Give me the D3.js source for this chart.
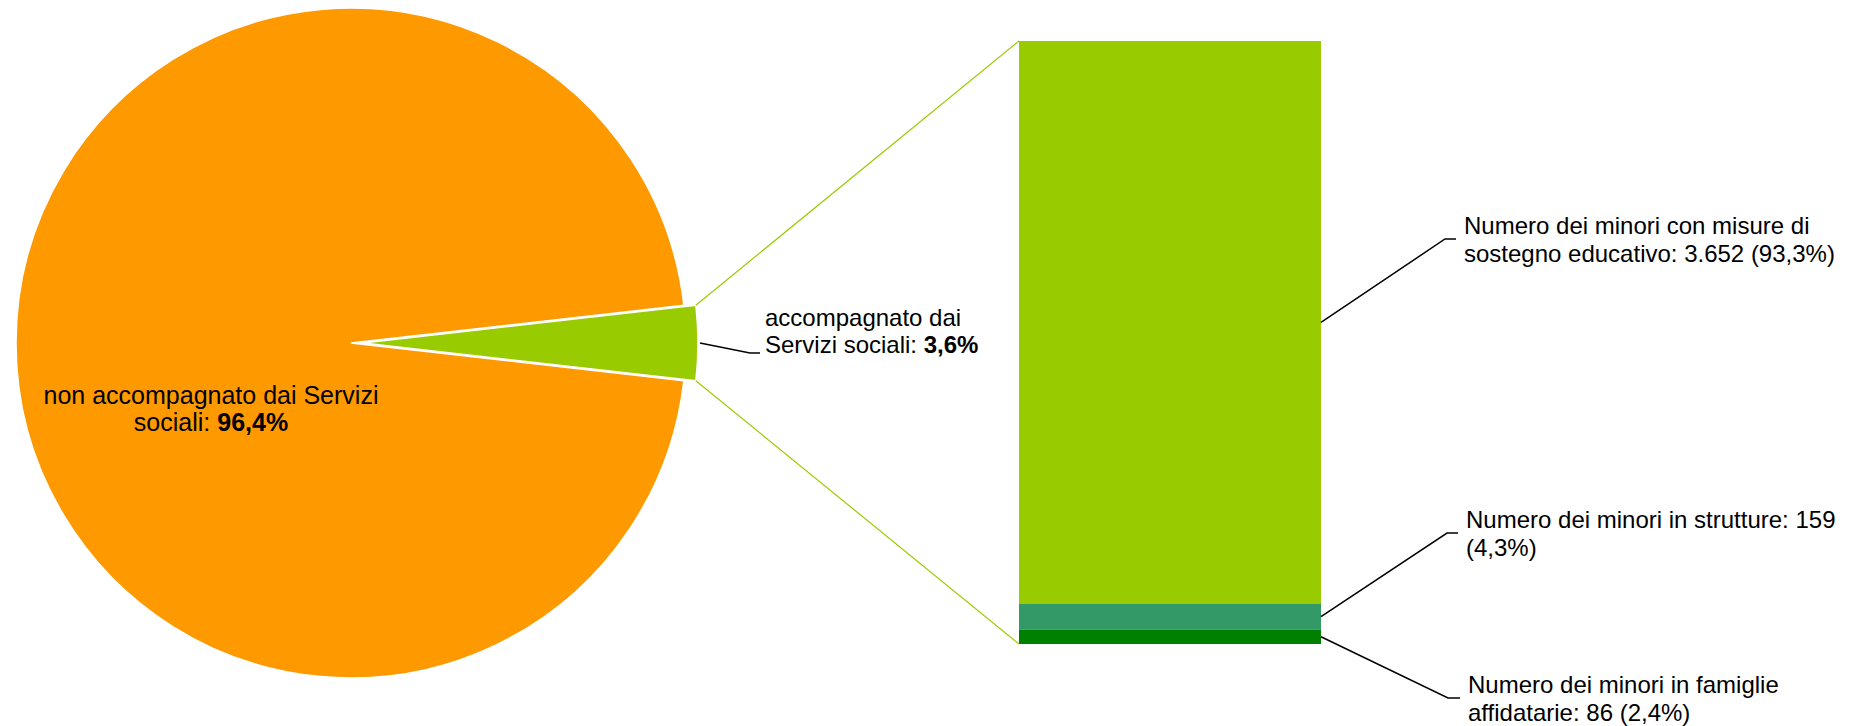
<!DOCTYPE html>
<html><head><meta charset="utf-8">
<script src="https://cdn.jsdelivr.net/npm/d3@7"></script>
<style>
html,body{margin:0;padding:0;background:#fff;}
svg{display:block;font-family:"Liberation Sans",Arial,sans-serif;}
</style></head>
<body>
<svg id="chart" width="1860" height="726"></svg>
<script>
// ---- data ----
const pieCategories = ["non accompagnato dai Servizi sociali", "accompagnato dai Servizi sociali"];
const pieValues = [96.4, 3.6];
const pieLabels = ["96,4%", "3,6%"];
const pieColors = ["#FF9900", "#99CC00"];

const barCategories = ["Numero dei minori con misure di sostegno educativo", "Numero dei minori in strutture", "Numero dei minori in famiglie affidatarie"];
const barCounts = ["3.652", "159", "86"];
const barPercents = [93.3, 4.3, 2.4];
const barPercentLabels = ["93,3%", "4,3%", "2,4%"];
const barColors = ["#99CC00", "#339966", "#008000"];

// ---- layout ----
const svg = d3.select("#chart");
const cx = 351, cy = 343, R = 335, explode = 12;
const fontPie = 24, fontBar = 24;

const half = pieValues[1] / 100 * Math.PI;
const pie = d3.pie().sort(null).value(d => d)
  .startAngle(Math.PI / 2 + half).endAngle(Math.PI / 2 + half + 2 * Math.PI);
const arcs = pie(pieValues);
const arc = d3.arc().innerRadius(0).outerRadius(R);

const gPie = svg.append("g").attr("transform", `translate(${cx},${cy})`);
gPie.selectAll("path").data(arcs).join("path")
  .attr("d", arc)
  .attr("fill", (d, i) => pieColors[i])
  .attr("stroke", "#fff").attr("stroke-width", 1.5)
  .attr("transform", (d, i) => {
    if (i !== 1) return null;
    const m = (d.startAngle + d.endAngle) / 2;
    return `translate(${explode * Math.sin(m)},${-explode * Math.cos(m)})`;
  });

// bar
const barX0 = 1019, barX1 = 1321, barTop = 41, barBottom = 644;
const y = d3.scaleLinear().domain([0, 100]).range([barTop, barBottom]);
let acc = 0;
const segs = barPercents.map((v, i) => { const s = { i, y0: acc, y1: acc + v }; acc += v; return s; });
svg.append("g").selectAll("rect").data(segs).join("rect")
  .attr("x", barX0).attr("width", barX1 - barX0)
  .attr("y", d => y(d.y0)).attr("height", d => y(d.y1) - y(d.y0))
  .attr("fill", d => barColors[d.i]);

// connector lines from exploded slice to bar
const g = arcs[1];
const m = (g.startAngle + g.endAngle) / 2;
const ox = cx + explode * Math.sin(m), oy = cy - explode * Math.cos(m);
const cornerA = [ox + R * Math.sin(g.startAngle), oy - R * Math.cos(g.startAngle)];
const cornerB = [ox + R * Math.sin(g.endAngle), oy - R * Math.cos(g.endAngle)];
const upper = cornerA[1] < cornerB[1] ? cornerA : cornerB;
const lower = cornerA[1] < cornerB[1] ? cornerB : cornerA;
svg.append("line").attr("x1", upper[0]).attr("y1", upper[1]).attr("x2", barX0).attr("y2", y(0))
  .attr("stroke", "#99CC00").attr("stroke-width", 1.2);
svg.append("line").attr("x1", lower[0]).attr("y1", lower[1]).attr("x2", barX0).attr("y2", y(100))
  .attr("stroke", "#99CC00").attr("stroke-width", 1.2);

// pie labels
const t0 = svg.append("text").attr("font-size", 25).attr("text-anchor", "middle").attr("fill", "#000");
t0.append("tspan").attr("x", 211).attr("y", 404).text("non accompagnato dai Servizi");
const t0b = t0.append("tspan").attr("x", 211).attr("y", 431);
t0b.append("tspan").text("sociali: ");
t0b.append("tspan").attr("font-weight", "bold").text(pieLabels[0]);

const pieLead = [[ox + R * Math.sin(m) + 2, oy - R * Math.cos(m)], [750, 353], [760, 353]];
svg.append("path").attr("d", d3.line()(pieLead)).attr("fill", "none").attr("stroke", "#000").attr("stroke-width", 1.5);
const t1 = svg.append("text").attr("font-size", fontPie).attr("fill", "#000");
t1.append("tspan").attr("x", 765).attr("y", 326).text("accompagnato dai");
const t1b = t1.append("tspan").attr("x", 765).attr("y", 353);
t1b.append("tspan").text("Servizi sociali: ");
t1b.append("tspan").attr("font-weight", "bold").text(pieLabels[1]);

// bar labels
const barLabelLines = [
  ["Numero dei minori con misure di", "sostegno educativo: " + barCounts[0] + " (" + barPercentLabels[0] + ")"],
  ["Numero dei minori in strutture: " + barCounts[1], "(" + barPercentLabels[1] + ")"],
  ["Numero dei minori in famiglie", "affidatarie: " + barCounts[2] + " (" + barPercentLabels[2] + ")"]
];
const elbows = [[1445, 239, 1456], [1447, 533, 1458], [1448, 698, 1460]];
segs.forEach((s, i) => {
  const ym = (y(s.y0) + y(s.y1)) / 2;
  const e = elbows[i];
  svg.append("path").attr("d", d3.line()([[barX1, ym], [e[0], e[1]], [e[2], e[1]]]))
    .attr("fill", "none").attr("stroke", "#000").attr("stroke-width", 1.5);
  const t = svg.append("text").attr("font-size", fontBar).attr("fill", "#000");
  barLabelLines[i].forEach((ln, j) => {
    t.append("tspan").attr("x", e[2] + 8).attr("y", e[1] - 5 + j * 28).text(ln);
  });
});
</script>
</body></html>
